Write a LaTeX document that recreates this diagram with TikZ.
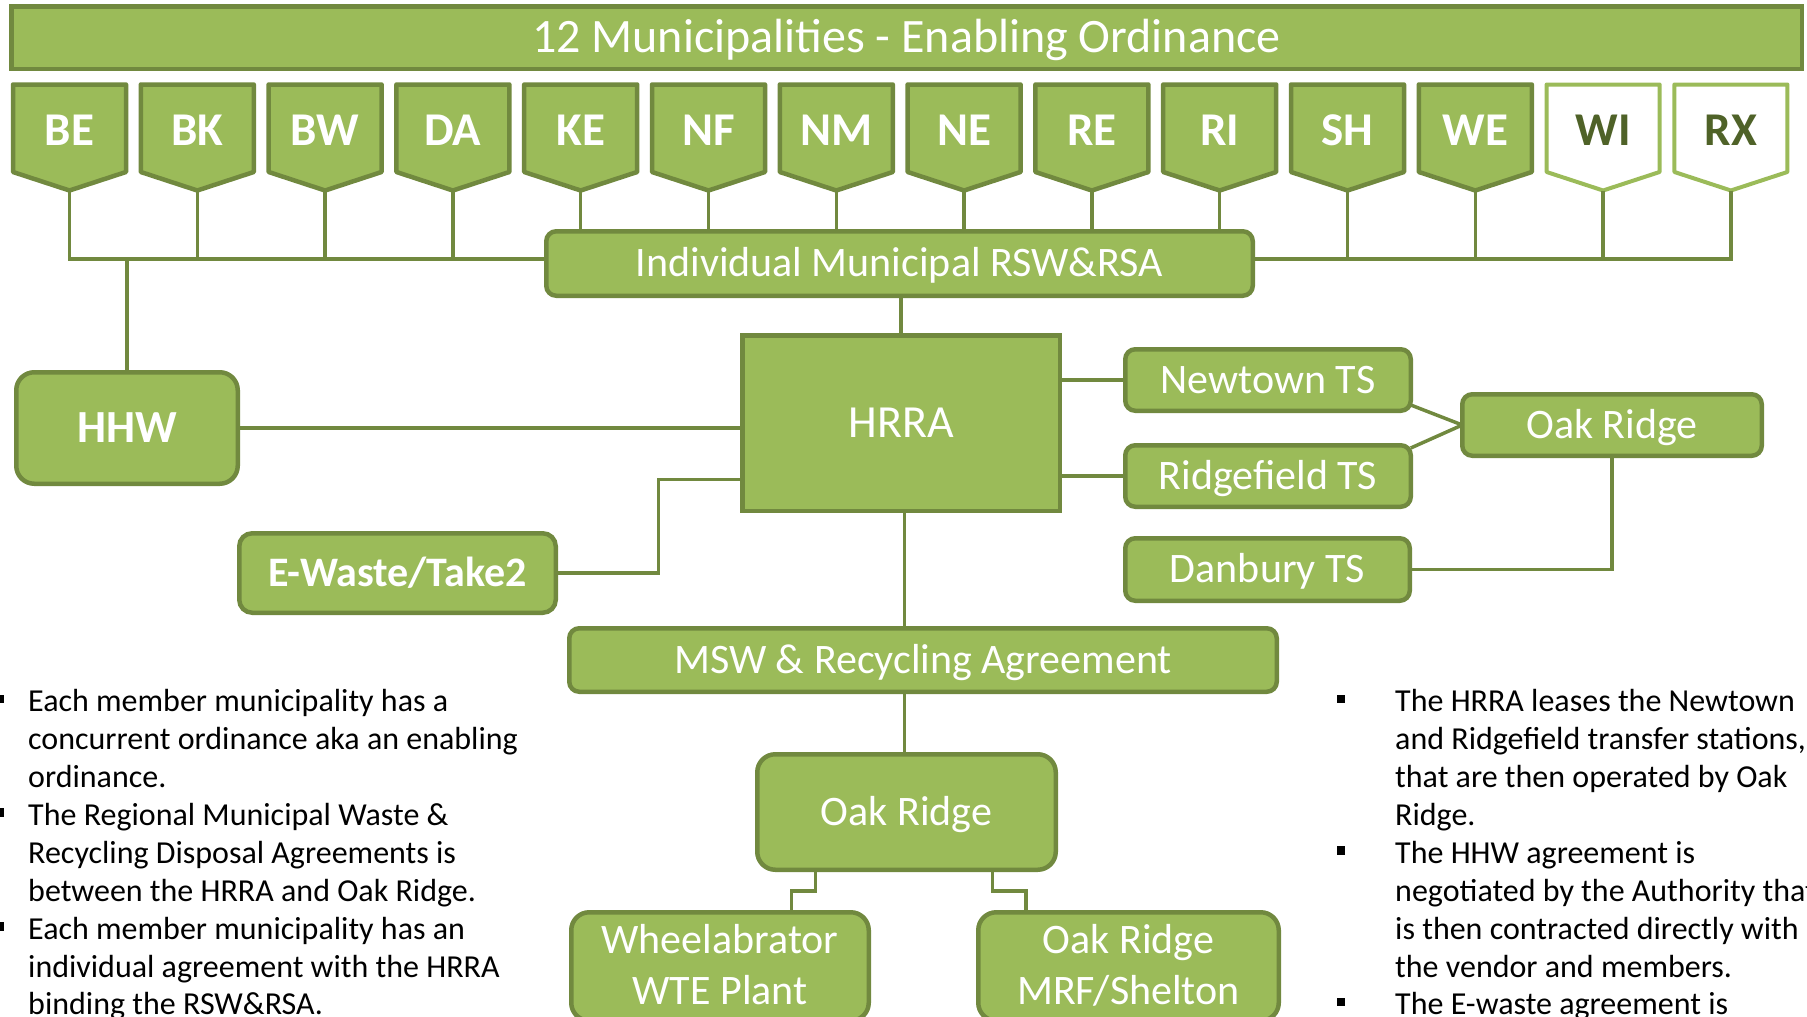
\documentclass[tikz,border=0pt]{standalone}
\usepackage{fontspec}
\setmainfont{Carlito}
\usetikzlibrary{calc}
\definecolor{gfill}{HTML}{9BBB59}
\definecolor{gline}{HTML}{71893F}
\definecolor{gdark}{HTML}{4F6228}
\begin{document}
\begin{tikzpicture}[x=1pt,y=-1pt,
  box/.style={draw=gline, fill=gfill, line width=4.5pt, text=white, inner sep=0pt, outer sep=0pt,
    text height=26.5pt, text depth=0pt, font=\fontsize{42}{50}\selectfont, rounded corners=10pt},
  boxtext/.style={text=white, inner sep=0pt, anchor=base, font=\fontsize{42}{50}\selectfont},
  conn/.style={draw=gline, line width=3.5pt},
  pent/.style={draw=gline, fill=gfill, line width=4.5pt, line join=round},
  pentw/.style={draw=gfill, fill=white, line width=4pt, line join=round},
  plabel/.style={font=\fontsize{47}{50}\selectfont\bfseries, text=white, inner sep=0pt, anchor=base},
  btext/.style={font=\fontsize{32}{38}\selectfont, text=black, inner sep=0pt, anchor=base west},
]
\useasboundingbox (0,0) rectangle (1807,1017);
\clip (0,0) rectangle (1807,1017);

% title bar
\node[box, sharp corners, minimum width=1790.5pt, minimum height=62.5pt, text height=30.3pt, font=\fontsize{48}{50}\selectfont] (title) at (906.5,37.5) {12 Municipalities - Enabling Ordinance};

% pentagons
\foreach \n/\lab [count=\i from 0] in {be/BE,bk/BK,bw/BW,da/DA,ke/KE,nf/NF,nm/NM,ne/NE,re/RE,ri/RI,sh/SH,we/WE} {
  \pgfmathsetmacro\cx{69.5+127.8*\i}
  \draw[pent] (\cx-56.5,84.5) -- (\cx+56.5,84.5) -- (\cx+56.5,172) -- (\cx,190.5) -- (\cx-56.5,172) -- cycle;
  \node[plabel] (\n) at (\cx,145) {\lab};
  \coordinate (\n-tip) at (\cx,190.5);
}
\foreach \n/\lab [count=\i from 12] in {wi/WI,rx/RX} {
  \pgfmathsetmacro\cx{69.5+127.8*\i}
  \draw[pentw] (\cx-56.5,84.5) -- (\cx+56.5,84.5) -- (\cx+56.5,172) -- (\cx,190.5) -- (\cx-56.5,172) -- cycle;
  \node[plabel, text=gdark] (\n) at (\cx,145) {\lab};
  \coordinate (\n-tip) at (\cx,190.5);
}

% boxes
\node[box, minimum width=706.5pt, minimum height=64.5pt] (rsw) at (899.5,263.5) {Individual Municipal RSW\&RSA};
\node[box, rounded corners=18pt, minimum width=221.5pt, minimum height=111.5pt, text height=29pt, font=\fontsize{46}{50}\selectfont\bfseries] (hhw) at (127,428) {HHW};
\node[box, sharp corners, minimum width=317.5pt, minimum height=175.5pt, text height=29pt, font=\fontsize{46}{50}\selectfont] (hrra) at (901,423) {HRRA};
\node[box, rounded corners=13pt, minimum width=316.5pt, minimum height=79.5pt, font=\fontsize{42}{50}\selectfont\bfseries] (ewaste) at (397.5,573) {E-Waste/Take2};
\node[box, minimum width=285.5pt, minimum height=61.5pt] (newtown) at (1268,380) {Newtown TS};
\node[box, minimum width=285.5pt, minimum height=61.5pt] (ridgefield) at (1268,476) {Ridgefield TS};
\node[box, minimum width=284.5pt, minimum height=62.5pt] (danbury) at (1267.5,569.5) {Danbury TS};
\node[box, minimum width=299.5pt, minimum height=61.5pt] (oakr) at (1612,425) {Oak Ridge};
\node[box, minimum width=707.5pt, minimum height=63.5pt] (msw) at (923,660) {MSW \& Recycling Agreement};
\node[box, rounded corners=18pt, minimum width=298.5pt, minimum height=115.5pt] (oakc) at (906.5,812) {Oak Ridge};
\node[box, rounded corners=18pt, minimum width=297.5pt, minimum height=108.5pt] (wheel) at (720,966.5) {};
\node[boxtext] (wheel1) at (720,953.5) {Wheelabrator};
\node[boxtext] (wheel2) at (720,1004) {WTE Plant};
\node[box, rounded corners=18pt, minimum width=300.5pt, minimum height=108.5pt] (mrf) at (1128.5,966.5) {};
\node[boxtext] (mrf1) at (1128.5,953.5) {Oak Ridge};
\node[boxtext] (mrf2) at (1128.5,1004) {MRF/Shelton};

% connectors
\coordinate (busL) at (0,259);
\draw[conn] (be-tip) |- (busL -| rsw.west);
\draw[conn] (rx-tip) |- (busL -| rsw.east);
\foreach \n in {bk,bw,da,sh,we,wi} \draw[conn] (\n-tip) -- (\n-tip |- busL);
\foreach \n in {ke,nf,nm,ne,re,ri} \draw[conn] (\n-tip) -- (\n-tip |- rsw.north);
\draw[conn] (hhw.north) -- (hhw.north |- busL);
\draw[conn] (hrra.north) -- (hrra.north |- rsw.south);
\draw[conn] (hhw.east) -- (hhw.east -| hrra.west);
\coordinate (ej) at (658.4,479.3);
\draw[conn] (ewaste.east) -| (ej) -- (ej -| hrra.west);
\draw[conn] (newtown.west) -- (newtown.west -| hrra.east);
\draw[conn] (ridgefield.west) -- (ridgefield.west -| hrra.east);
\draw[conn] ($(newtown.east)+(0,25)$) -- (oakr.west);
\draw[conn] ($(ridgefield.east)+(0,-28)$) -- (oakr.west);
\draw[conn] (danbury.east) -| (oakr.south);
\coordinate (mv) at (904.5,0);
\draw[conn] (mv |- hrra.south) -- (mv |- msw.north);
\draw[conn] (mv |- msw.south) -- (mv |- oakc.north);
\coordinate (j1) at (815.5,891);
\coordinate (j2) at (791.6,891);
\draw[conn] (oakc.south -| j1) -- (j1) -- (j2) -- (j2 |- wheel.north);
\coordinate (k1) at (992.6,891);
\coordinate (k2) at (1026,891);
\draw[conn] (oakc.south -| k1) -- (k1) -- (k2) -- (k2 |- mrf.north);

% bullet markers
\foreach \yb in {711.7,825.4,939.1} \fill (-4.5,\yb-17) rectangle (4,\yb-8.5);
\foreach \yb in {711.7,863.3,1014.9} \fill (1336.5,\yb-17) rectangle (1345,\yb-8.5);

% left text
\foreach \t [count=\i from 0] in {Each member municipality has a, concurrent ordinance aka an enabling, ordinance., The Regional Municipal Waste \&, Recycling Disposal Agreements is, between the HRRA and Oak Ridge., Each member municipality has an, individual agreement with the HRRA, binding the RSW\&RSA.}
  \node[btext] (lt\i) at (28,711.7+37.9*\i) {\t};
% right text
\foreach \t [count=\i from 0] in {The HRRA leases the Newtown, {and Ridgefield transfer stations,}, that are then operated by Oak, Ridge., The HHW agreement is, negotiated by the Authority that, is then contracted directly with, the vendor and members., The E-waste agreement is}
  \node[btext] (rt\i) at (1395,711.7+37.9*\i) {\t};
\end{tikzpicture}
\end{document}
